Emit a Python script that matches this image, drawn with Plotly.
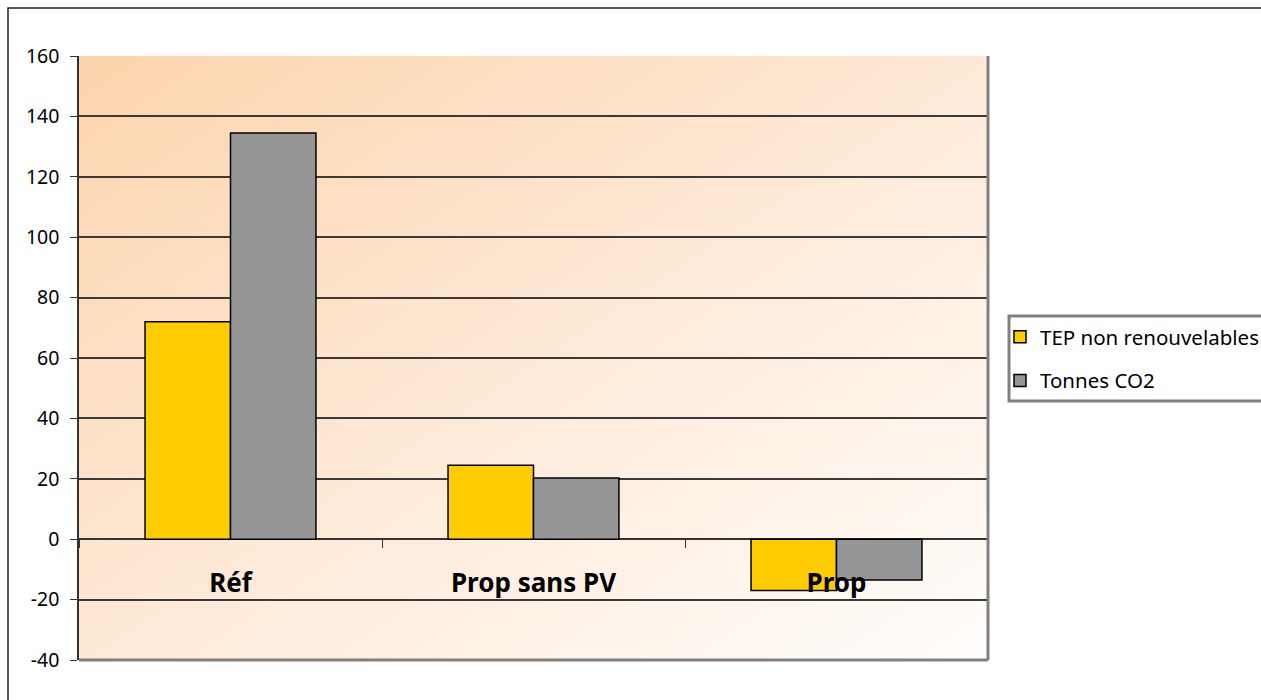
import base64
import plotly.graph_objects as go

# ---- data ----
categories = ["Réf", "Prop sans PV", "Prop"]
tep_values = [72, 24.5, -17]
co2_values = [134.5, 20.3, -13.5]
series_names = ["TEP non renouvelables", "Tonnes CO2"]
y_ticks = [-40, -20, 0, 20, 40, 60, 80, 100, 120, 140, 160]
y_tick_labels = ["-40", "-20", "0", "20", "40", "60", "80", "100", "120", "140", "160"]

# ---- geometry (pixels) ----
W, H = 1261, 700
L, R, T, B = 79, 988, 56, 660
ymin, ymax = -40, 160
PW, PH = R - L, B - T


def px(x):
    return (x - L) / PW


def py(y):
    return (B - y) / PH


FONT = "Noto Sans"

svg = (
    "<svg xmlns='http://www.w3.org/2000/svg' width='100' height='100' viewBox='0 0 100 100' "
    "preserveAspectRatio='none'><defs><linearGradient id='g' x1='0' y1='0' x2='1' y2='1'>"
    "<stop offset='0' stop-color='#FCD4AC'/><stop offset='0.55' stop-color='#FEEBDB'/>"
    "<stop offset='1' stop-color='#FFFDFB'/></linearGradient></defs>"
    "<rect width='100' height='100' fill='url(#g)'/></svg>"
)
bg_uri = "data:image/svg+xml;base64," + base64.b64encode(svg.encode()).decode()

fig = go.Figure()
fig.add_bar(
    x=categories, y=tep_values, name=series_names[0], legendgroup="a",
    marker=dict(color="#FFCC00", line=dict(color="#000000", width=1.5)),
)
fig.add_bar(
    x=categories, y=co2_values, name=series_names[1], legendgroup="b",
    marker=dict(color="#969696", line=dict(color="#000000", width=1.5)),
)

fig.update_layout(
    width=W, height=H,
    margin=dict(l=L, r=W - R, t=T, b=H - B, autoexpand=False),
    paper_bgcolor="white",
    plot_bgcolor="rgba(0,0,0,0)",
    font=dict(family=FONT, color="black"),
    barmode="group", bargap=0.436, bargroupgap=0,
    showlegend=True,
    legend=dict(
        x=px(1000), y=py(317), xanchor="left", yanchor="top",
        bgcolor="rgba(0,0,0,0)", borderwidth=0,
        font=dict(family=FONT, size=20.5, color="black"),
        tracegroupgap=14, traceorder="grouped",
    ),
    xaxis=dict(
        anchor="free", position=(0 - ymin) / (ymax - ymin),
        type="category", range=[-0.5, 2.5],
        ticks="outside", tickson="boundaries", ticklen=8, tickcolor="#333333",
        showline=False, showgrid=False, zeroline=False,
        tickfont=dict(family=FONT, size=26, color="black", weight="bold"),
        ticklabelstandoff=26,
    ),
    yaxis=dict(
        range=[ymin, ymax], tickvals=y_ticks, ticktext=y_tick_labels,
        ticks="outside", ticklen=7, tickcolor="#333333",
        showline=True, linecolor="#333333", linewidth=1.5,
        showgrid=True, gridcolor="#3a3a3a", gridwidth=1.5,
        zeroline=True, zerolinecolor="#333333", zerolinewidth=1.5,
        tickfont=dict(family=FONT, size=19.5, color="black"),
        ticklabelstandoff=7,
    ),
    images=[dict(
        source=bg_uri, xref="paper", yref="paper", x=0, y=1, sizex=1, sizey=1,
        sizing="stretch", layer="below", xanchor="left", yanchor="top",
    )],
    shapes=[
        # outer chart frame
        dict(type="rect", xref="paper", yref="paper",
             x0=px(8), x1=px(1400), y0=py(900), y1=py(8),
             line=dict(color="#222222", width=1.5), fillcolor="rgba(0,0,0,0)", layer="below"),
        # plot-area right / bottom shadow border
        dict(type="line", xref="paper", yref="paper", x0=1, x1=1, y0=0, y1=1,
             line=dict(color="#808080", width=3)),
        dict(type="line", xref="paper", yref="paper", x0=0, x1=1, y0=0, y1=0,
             line=dict(color="#808080", width=3)),
        # legend box
        dict(type="rect", xref="paper", yref="paper",
             x0=px(1009), x1=px(1400), y0=py(401), y1=py(316),
             line=dict(color="#808080", width=3), fillcolor="white", layer="below"),
    ],
)

fig.write_html("out.html")
